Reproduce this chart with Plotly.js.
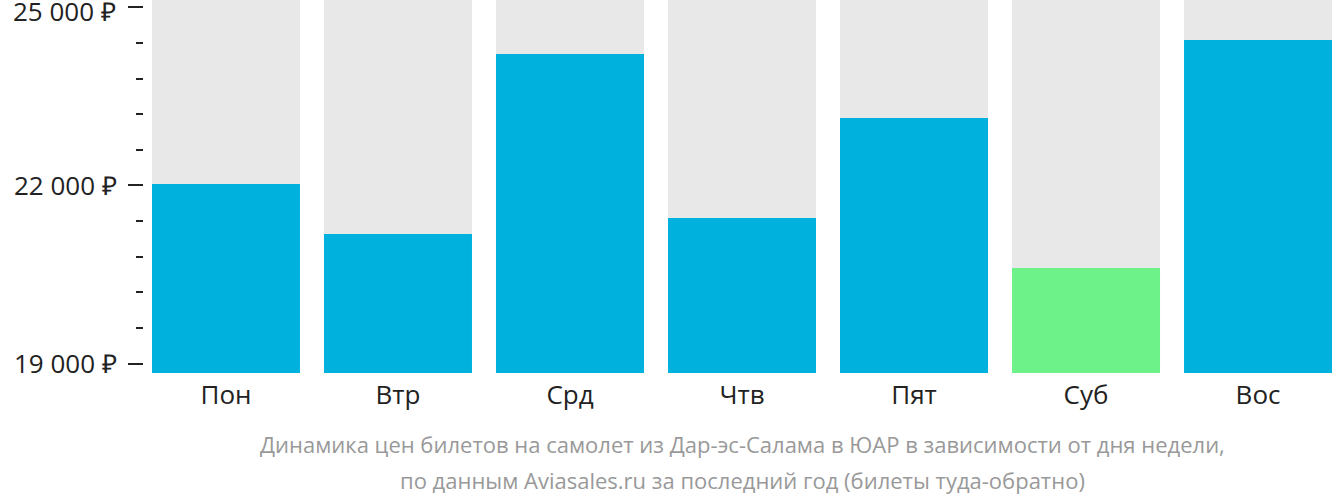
<!DOCTYPE html>
<html>
<head>
<meta charset="utf-8">
<script src="https://cdn.plot.ly/plotly-3.0.1.min.js"></script>
<style>html,body{margin:0;padding:0;background:#fff;}#chart{width:1332px;height:502px;}</style>
</head>
<body>
<div id="chart"></div>
<script>
const days = ["Пон", "Втр", "Срд", "Чтв", "Пят", "Суб", "Вос"];
const prices = [22025, 21183, 24217, 21452, 23138, 20610, 24453];
const tickValues = [19000, 22000, 25000];
const tickLabels = ["19 000 ₽", "22 000 ₽", "25 000 ₽"];
const titleLine1 = "Динамика цен билетов на самолет из Дар-эс-Салама в ЮАР в зависимости от дня недели,";
const titleLine2 = "по данным Aviasales.ru за последний год (билеты туда-обратно)";

const yMin = 18840, yMax = 25126;
const minPrice = Math.min(...prices);
const colors = prices.map(p => p === minPrice ? "#6DF28A" : "#00B1DD");
const bgValues = days.map(() => yMax);

// the top tick label sits at the very edge; draw it as an annotation so it stays fully visible
const lastIdx = tickLabels.length - 1;
const axisTickText = tickLabels.map((t, i) => i === lastIdx ? "" : t);

const traces = [
  {type: "bar", x: days, y: bgValues, marker: {color: "#E8E8E8"}, hoverinfo: "skip", showlegend: false},
  {type: "bar", x: days, y: prices, marker: {color: colors}, showlegend: false}
];

const layout = {
  width: 1332, height: 502,
  margin: {l: 143, r: 0, t: 0, b: 129},
  paper_bgcolor: "#fff", plot_bgcolor: "#fff",
  barmode: "overlay",
  bargap: 24/172,
  font: {family: "Open Sans, sans-serif", color: "#222", size: 26},
  xaxis: {
    domain: [9/1189, 1], range: [-0.43, 6.43],
    showgrid: false, zeroline: false, showline: false, ticks: "",
    tickfont: {size: 26, color: "#222"}, ticklabelstandoff: 4
  },
  yaxis: {
    anchor: "free", position: 0,
    range: [yMin, yMax], showgrid: false, zeroline: false, showline: false,
    tickvals: tickValues, ticktext: axisTickText,
    ticks: "outside", ticklen: 15, tickwidth: 2, tickcolor: "#222",
    minor: {dtick: 600, tick0: 19000, ticks: "outside", ticklen: 7, tickwidth: 2, tickcolor: "#222"},
    tickfont: {size: 26, color: "#222"}, ticklabelstandoff: 6
  },
  annotations: [
    {text: tickLabels[lastIdx], xref: "paper", yref: "paper", x: 0, y: 1, xanchor: "right", yanchor: "middle", xshift: -25, yshift: -11, showarrow: false, font: {size: 26, color: "#222"}},
    {text: titleLine1, xref: "x domain", yref: "paper", x: 0.5, y: -0.1903, xanchor: "center", yanchor: "middle", showarrow: false, font: {size: 22, color: "#999"}},
    {text: titleLine2, xref: "x domain", yref: "paper", x: 0.5, y: -0.2869, xanchor: "center", yanchor: "middle", showarrow: false, font: {size: 22, color: "#999"}}
  ]
};

Plotly.newPlot("chart", traces, layout, {displayModeBar: false, staticPlot: true});
</script>
</body>
</html>
